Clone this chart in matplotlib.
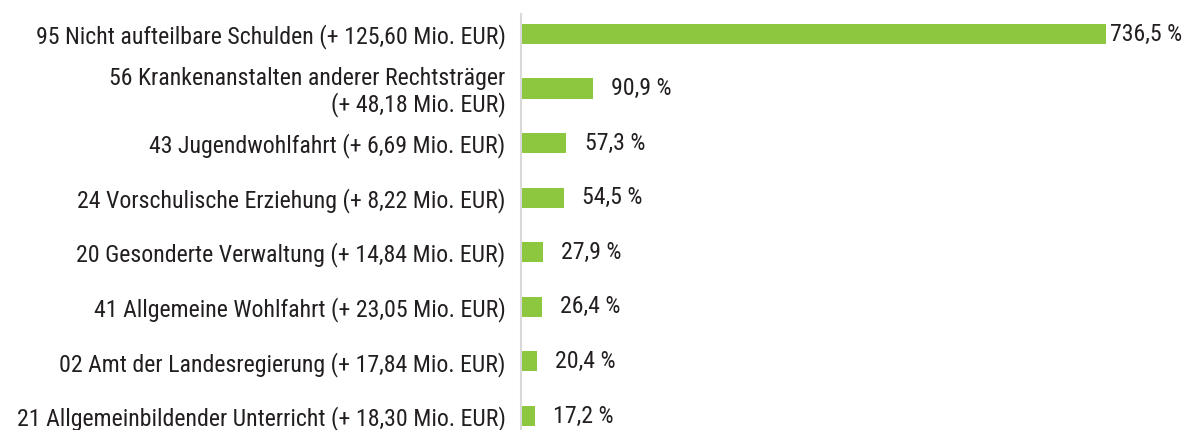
import matplotlib.pyplot as plt
from matplotlib import font_manager

# Data (top to bottom)
categories = [
    "95 Nicht aufteilbare Schulden (+ 125,60 Mio. EUR)",
    "56 Krankenanstalten anderer Rechtsträger\n(+ 48,18 Mio. EUR)",
    "43 Jugendwohlfahrt (+ 6,69 Mio. EUR)",
    "24 Vorschulische Erziehung (+ 8,22 Mio. EUR)",
    "20 Gesonderte Verwaltung (+ 14,84 Mio. EUR)",
    "41 Allgemeine Wohlfahrt (+ 23,05 Mio. EUR)",
    "02 Amt der Landesregierung (+ 17,84 Mio. EUR)",
    "21 Allgemeinbildender Unterricht (+ 18,30 Mio. EUR)",
]
values = [736.5, 90.9, 57.3, 54.5, 27.9, 26.4, 20.4, 17.2]
value_labels = ["736,5 %", "90,9 %", "57,3 %", "54,5 %", "27,9 %", "26,4 %", "20,4 %", "17,2 %"]

GREEN = "#8dc63f"
TEXT = "#231f20"

# pick the narrowest-looking installed family
names = {f.name for f in font_manager.fontManager.ttflist}
family = "DejaVu Sans"
for cand in ["Liberation Sans Narrow", "Roboto Condensed", "Open Sans Condensed",
             "Noto Sans Condensed", "DejaVu Sans Condensed", "Roboto", "Liberation Sans"]:
    if cand in names:
        family = cand
        break
plt.rcParams["font.family"] = [family, "DejaVu Sans"]

W, H = 1182, 430
fig = plt.figure(figsize=(W / 100, H / 100), dpi=100)

# scale font so the longest first label spans ~470 px like the reference
renderer = fig.canvas.get_renderer()
probe = fig.text(0, 0, categories[0], fontsize=15)
fs = 15 * 470 / probe.get_window_extent(renderer).width
probe.remove()

ax = fig.add_axes([521 / W, 0, (W - 521) / W, (430 - 14) / H])

ypos = list(range(len(values)))
ax.barh(ypos, values, height=0.37, color=GREEN)

ax.set_xlim(0, (W - 521) / 0.794)
ax.set_ylim(7.257, -0.366)

ax.set_yticks(ypos)
ax.set_yticklabels(categories, fontsize=fs, color=TEXT, linespacing=1.1)
ax.tick_params(axis="y", length=0, pad=11)
ax.set_xticks([])

for s in ["top", "right", "bottom"]:
    ax.spines[s].set_visible(False)
ax.spines["left"].set_color("#d9d9d9")
ax.spines["left"].set_linewidth(1.5)

for i, (v, lab) in enumerate(zip(values, value_labels)):
    off = 3 if i == 0 else 13
    ax.annotate(lab, (v, i), xytext=(off, 0), textcoords="offset points",
                va="center", ha="left", fontsize=fs, color=TEXT)

fig.savefig("out.png", dpi=100)
